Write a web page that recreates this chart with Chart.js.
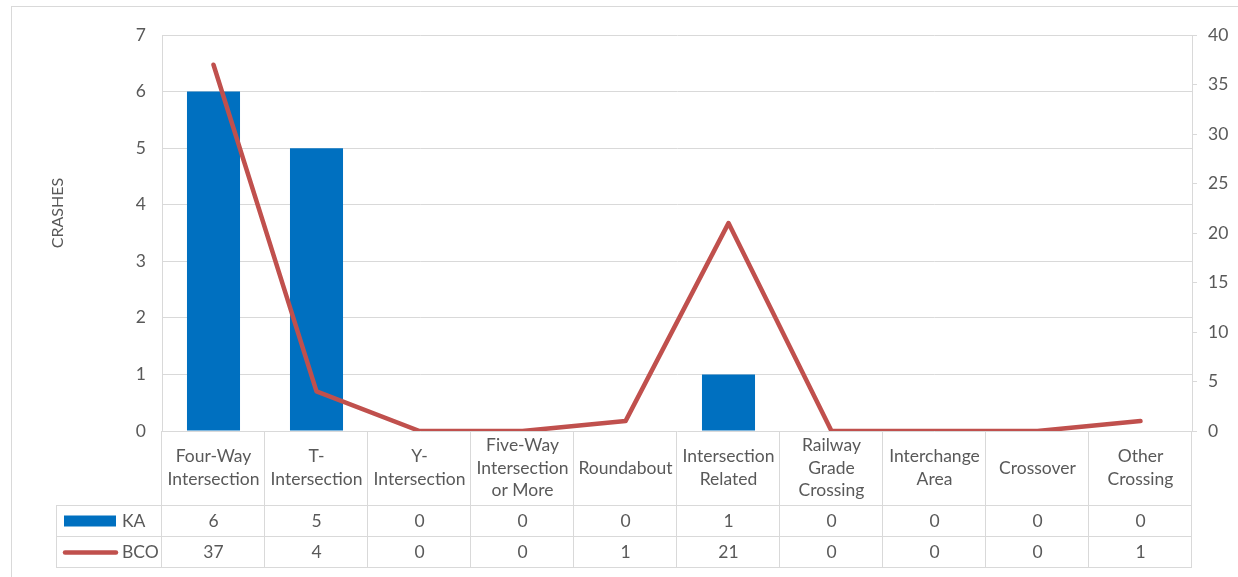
<!DOCTYPE html>
<html>
<head>
<meta charset="utf-8">
<script src="https://cdn.jsdelivr.net/npm/chart.js@4.4.0/dist/chart.umd.min.js"></script>
<style>
  body { margin: 0; background: #fff; }
  #wrap { width: 1238px; height: 577px; position: relative; }
</style>
</head>
<body>
<div id="wrap"><canvas id="chart"></canvas></div>
<script>
// chart data
const categories = [
    ['Four-Way', 'Intersection'],
    ['T-', 'Intersection'],
    ['Y-', 'Intersection'],
    ['Five-Way', 'Intersection', 'or More'],
    ['Roundabout'],
    ['Intersection', 'Related'],
    ['Railway', 'Grade', 'Crossing'],
    ['Interchange', 'Area'],
    ['Crossover'],
    ['Other', 'Crossing']
];
const kaValues = [6, 5, 0, 0, 0, 1, 0, 0, 0, 0];
const bcoValues = [37, 4, 0, 0, 1, 21, 0, 0, 0, 1];
const leftTicks = [0, 1, 2, 3, 4, 5, 6, 7];
const rightTicks = [0, 5, 10, 15, 20, 25, 30, 35, 40];

const TEXT = '#595959';
const GRID = '#d9d9d9';
const BLUE = '#0070c0';
const RED = '#c0504d';
const FONT = 'Lato, "Liberation Sans", sans-serif';

// draws the data table, category labels, legend keys and axis title
const tablePlugin = {
    id: 'tablePlugin',
    afterDraw(chart) {
        const ctx = chart.ctx;
        const area = chart.chartArea;
        const n = categories.length;
        const w = (area.right - area.left) / n;
        const labelBottom = area.bottom + 74;
        const row1 = labelBottom + 31;
        const row2 = row1 + 31;
        const tableLeft = 56;

        ctx.save();
        // outer border
        ctx.strokeStyle = GRID;
        ctx.lineWidth = 1;
        ctx.strokeRect(11.5, 6.5, 1240, 580);

        // table grid
        ctx.beginPath();
        for (let k = 0; k <= n; k++) {
            const x = Math.round(area.left + k * w) - 0.5;
            ctx.moveTo(x, area.bottom);
            ctx.lineTo(x, row2);
        }
        ctx.moveTo(tableLeft + 0.5, labelBottom);
        ctx.lineTo(tableLeft + 0.5, row2);
        [labelBottom, row1, row2].forEach(y => {
            ctx.moveTo(tableLeft, y + 0.5);
            ctx.lineTo(Math.round(area.right), y + 0.5);
        });
        ctx.stroke();

        // category labels
        ctx.fillStyle = TEXT;
        ctx.font = '17.5px ' + FONT;
        ctx.textAlign = 'center';
        ctx.textBaseline = 'middle';
        const xs = chart.scales.x;
        const lh = 22.5;
        const mid = (area.bottom + labelBottom) / 2;
        categories.forEach((lines, i) => {
            const cx = xs.getPixelForValue(i);
            const y0 = mid - (lines.length - 1) * lh / 2;
            lines.forEach((t, j) => ctx.fillText(t, cx, y0 + j * lh));
        });

        // values
        const r1c = (labelBottom + row1) / 2 + 1;
        const r2c = (row1 + row2) / 2 + 1;
        kaValues.forEach((v, i) => ctx.fillText(String(v), xs.getPixelForValue(i), r1c));
        bcoValues.forEach((v, i) => ctx.fillText(String(v), xs.getPixelForValue(i), r2c));

        // legend keys
        ctx.textAlign = 'left';
        ctx.fillText('KA', 122, r1c);
        ctx.fillText('BCO', 122, r2c);
        ctx.fillStyle = BLUE;
        ctx.fillRect(64, r1c - 6, 52, 11);
        ctx.strokeStyle = RED;
        ctx.lineWidth = 4.5;
        ctx.lineCap = 'round';
        ctx.beginPath();
        ctx.moveTo(65, r2c);
        ctx.lineTo(116, r2c);
        ctx.stroke();

        // axis title
        ctx.fillStyle = TEXT;
        ctx.font = '16px ' + FONT;
        ctx.translate(58, 213);
        ctx.rotate(-Math.PI / 2);
        ctx.textAlign = 'center';
        ctx.fillText('CRASHES', 0, 0);
        ctx.restore();
    }
};

new Chart(document.getElementById('chart'), {
    type: 'bar',
    data: {
        labels: categories.map(c => c.join(' ')),
        datasets: [
            {
                type: 'line',
                label: 'BCO',
                data: bcoValues,
                yAxisID: 'y1',
                borderColor: RED,
                borderWidth: 4.5,
                borderCapStyle: 'round',
                borderJoinStyle: 'round',
                pointRadius: 0,
                tension: 0,
                order: 0
            },
            {
                label: 'KA',
                data: kaValues,
                yAxisID: 'y',
                backgroundColor: BLUE,
                barPercentage: 0.515,
                categoryPercentage: 1,
                order: 1
            }
        ]
    },
    options: {
        responsive: true,
        maintainAspectRatio: false,
        animation: false,
        layout: { padding: { left: 11, right: 3, top: 35, bottom: 10 } },
        plugins: {
            legend: { display: false },
            tooltip: { enabled: false }
        },
        scales: {
            x: {
                offset: true,
                grid: { display: false },
                border: { display: false },
                ticks: { display: false },
                afterFit: s => { s.height = 136; }
            },
            y: {
                position: 'left',
                min: 0,
                max: 7,
                afterBuildTicks: s => { s.ticks = leftTicks.map(v => ({ value: v })); },
                ticks: { color: TEXT, font: { family: FONT, size: 17.5 }, padding: 16 },
                grid: { color: GRID, drawTicks: false },
                border: { display: true, color: GRID },
                afterFit: s => { s.width = 151; }
            },
            y1: {
                position: 'right',
                min: 0,
                max: 40,
                afterBuildTicks: s => { s.ticks = rightTicks.map(v => ({ value: v })); },
                ticks: { color: TEXT, font: { family: FONT, size: 17.5 }, padding: 11 },
                grid: { drawOnChartArea: false, color: GRID, tickLength: 5 },
                border: { display: true, color: GRID },
                afterFit: s => { s.width = 43; }
            }
        }
    },
    plugins: [tablePlugin]
});
</script>
</body>
</html>
